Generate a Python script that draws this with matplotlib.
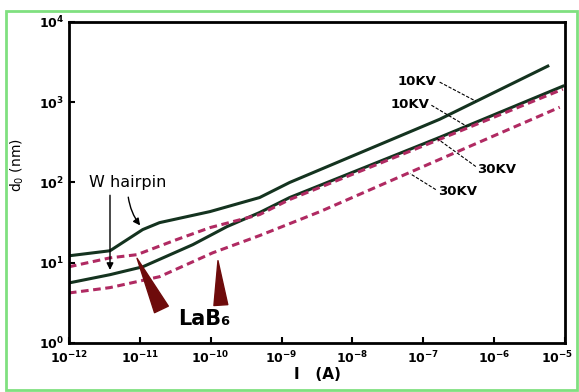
import matplotlib
matplotlib.use("Agg")
from matplotlib import pyplot as plt
from matplotlib.patches import Rectangle
from matplotlib.ticker import NullLocator
from matplotlib.transforms import ScaledTranslation

# beam current (A) and probe diameter (nm)
I_w10 = [1.0e-12, 3.8e-12, 1.1e-11, 1.9e-11, 9.8e-11, 4.9e-10, 1.3e-9, 1.7e-7, 5.7e-6]
d_w10 = [12.2, 14.1, 25.9, 31.6, 43.4, 64.9, 100, 613, 2818]

I_w30 = [1.0e-12, 3.8e-12, 1.1e-11, 5.6e-11, 1.7e-10, 4.9e-10, 1.3e-9, 1.7e-7, 9.3e-6]
d_w30 = [5.6, 7.1, 8.9, 16.8, 28.2, 42.2, 64.9, 365, 1585]

I_lab10 = [1.0e-12, 3.8e-12, 9.1e-12, 3.3e-11, 9.8e-11, 4.9e-10, 1.3e-9, 1.7e-7, 9.3e-6]
d_lab10 = [8.9, 11.5, 12.6, 19.4, 27.4, 39.8, 61.3, 345, 1454]

I_lab30 = [1.0e-12, 3.8e-12, 1.9e-11, 1.07e-10, 4.9e-10, 3.5e-9, 1.7e-7, 8.4e-6]
d_lab30 = [4.2, 4.9, 6.7, 13.3, 21.8, 43.4, 194, 866]

x_ticks = [1e-12, 1e-11, 1e-10, 1e-9, 1e-8, 1e-7, 1e-6, 1e-5]
y_ticks = [1e0, 1e1, 1e2, 1e3, 1e4]

solid_c = '#14331f'
dash_c = '#b02a62'
wedge_c = '#6e0b0b'


def plot_spot_size():
    fig = plt.figure(figsize=(5.79, 3.92), dpi=100)
    ax = fig.add_axes([0.119, 0.125, 0.857, 0.819])

    ax.plot(I_w10, d_w10, color=solid_c, lw=2.2)
    ax.plot(I_w30, d_w30, color=solid_c, lw=2.2)
    ax.plot(I_lab10, d_lab10, color=dash_c, lw=2.2, dashes=(2.5, 1.5))
    ax.plot(I_lab30, d_lab30, color=dash_c, lw=2.2, dashes=(2.5, 1.5))

    ax.set_xscale('log')
    ax.set_yscale('log')
    ax.set_xlim(1e-12, 1e-5)
    ax.set_ylim(1e0, 1e4)
    ax.set_xticks(x_ticks)
    ax.set_yticks(y_ticks)
    ax.xaxis.set_minor_locator(NullLocator())
    ax.yaxis.set_minor_locator(NullLocator())
    ax.tick_params(direction='in', length=4, width=1.5, labelsize=9)
    ax.tick_params(axis='x', pad=5)
    for lab in ax.get_xticklabels() + ax.get_yticklabels():
        lab.set_fontweight('bold')
    # keep the last x label inside the figure
    last = ax.get_xticklabels()[-1]
    last.set_transform(last.get_transform() +
                       ScaledTranslation(-6 / 72, 0, fig.dpi_scale_trans))
    for sp in ax.spines.values():
        sp.set_linewidth(2)

    ax.set_xlabel('I   (A)', fontsize=11, fontweight='bold', labelpad=0)
    ax.set_ylabel('d$_0$ (nm)', fontsize=10)
    ax.yaxis.set_label_coords(-0.086, 0.555)

    # W hairpin labels
    ax.text(1.9e-12, 100, 'W hairpin', fontsize=11.5, va='center', ha='left')
    ax.annotate('', xy=(1.07e-11, 27.4), xytext=(6.8e-12, 71),
                arrowprops=dict(arrowstyle='-|>', color='black', lw=1,
                                connectionstyle='arc3,rad=0.15'))
    ax.annotate('', xy=(3.8e-12, 7.5), xytext=(3.8e-12, 75),
                arrowprops=dict(arrowstyle='-|>', color='black', lw=1))

    # LaB6 labels
    ax.text(8.0e-11, 2.0, 'LaB₆', fontsize=15, fontweight='bold',
            ha='center', va='center')
    ax.annotate('', xy=(8.8e-12, 12.2), xytext=(2.1e-11, 2.44),
                arrowprops=dict(arrowstyle='wedge,tail_width=0.55',
                                mutation_scale=20, color=wedge_c))
    ax.annotate('', xy=(1.26e-10, 11.5), xytext=(1.4e-10, 2.74),
                arrowprops=dict(arrowstyle='wedge,tail_width=0.5',
                                mutation_scale=20, color=wedge_c))

    # voltage labels with leader lines
    kv_labels = [('10KV', (8.1e-8, 1830), (1.7e-7, 1780), (5.5e-7, 1030)),
                 ('10KV', (6.5e-8, 944), (1.3e-7, 917), (4.1e-7, 501)),
                 ('30KV', (1.09e-6, 145), (5.5e-7, 158), (1.55e-7, 355)),
                 ('30KV', (3.07e-7, 77), (1.5e-7, 81.5), (6.5e-8, 129))]
    for txt, pos, start, end in kv_labels:
        ax.text(pos[0], pos[1], txt, fontsize=9.5, fontweight='bold',
                ha='center', va='center')
        ax.plot([start[0], end[0]], [start[1], end[1]], color='black',
                lw=0.8, ls=(0, (3, 1.5)))

    fig.patches.append(Rectangle((6 / 579, 2 / 392), 571 / 579, 379 / 392,
                                 transform=fig.transFigure, fill=False,
                                 edgecolor='#80e080', lw=2))
    fig.savefig('out.png', dpi=100)


if __name__ == "__main__":
    plot_spot_size()
